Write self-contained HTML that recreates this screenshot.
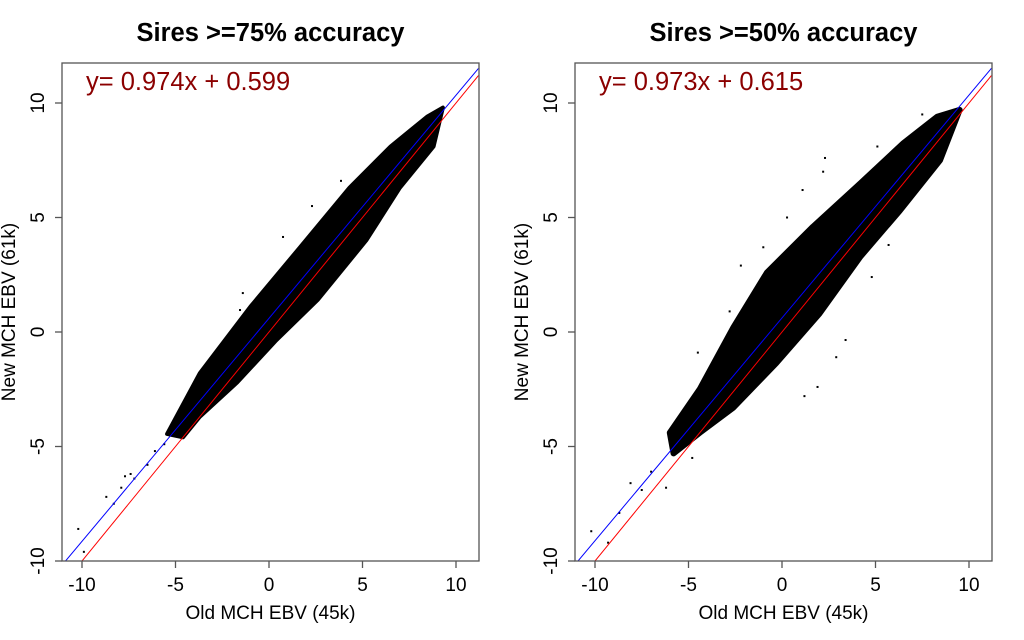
<!DOCTYPE html>
<html><head><meta charset="utf-8"><style>
body{margin:0;background:#fff;}
svg{display:block;font-family:"Liberation Sans",sans-serif;}
</style></head><body>
<svg id="c" width="1024" height="640"></svg>
<script>
const xTicks=[-10,-5,0,5,10];
const yTicks=[-10,-5,0,5,10];
const titles=["Sires >=75% accuracy","Sires >=50% accuracy"];
const slopes=[0.974,0.973];
const intercepts=[0.599,0.615];
const equations=["y= 0.974x + 0.599","y= 0.973x + 0.615"];
// dense cloud outline (old EBV, new EBV)
const cloud1X=[-5.45,-3.7,-1.0,1.66,4.3,6.5,8.45,9.3,8.8,7.0,5.2,2.6,0.4,-1.7,-3.7,-4.6];
const cloud1Y=[-4.45,-1.8,1.1,3.7,6.3,8.1,9.4,9.8,8.1,6.3,4.0,1.4,-0.35,-2.2,-3.7,-4.6];
const cloud2X=[-6.0,-4.4,-2.6,-0.8,1.66,4.2,6.5,8.3,9.5,8.45,6.3,4.2,2.0,-0.3,-2.6,-4.4,-5.8];
const cloud2Y=[-4.4,-2.5,0.2,2.6,4.6,6.5,8.25,9.4,9.7,7.5,5.3,3.3,0.8,-1.35,-3.3,-4.4,-5.3];
const out1X=[-10.2,-9.9,-8.7,-8.3,-7.9,-7.7,-7.4,-7.2,-6.5,-6.1,-5.6,-1.4,0.75,2.3,3.85,-1.55];
const out1Y=[-8.6,-9.6,-7.2,-7.5,-6.8,-6.3,-6.2,-6.4,-5.8,-5.2,-4.9,1.7,4.15,5.5,6.6,0.96];
const out2X=[-10.2,-9.3,-8.7,-8.1,-7.5,-7.0,-6.2,-4.8,2.3,2.2,1.1,-2.2,-4.5,3.4,2.9,1.2,1.9,4.8,5.7,5.1,7.5,8.7,-2.8,0.27,-1.0];
const out2Y=[-8.7,-9.2,-7.9,-6.6,-6.9,-6.1,-6.8,-5.5,7.6,7.0,6.2,2.9,-0.9,-0.35,-1.1,-2.8,-2.4,2.4,3.8,8.1,9.5,8.1,0.9,5.0,3.7];
const svg=document.getElementById('c');
const NS="http://www.w3.org/2000/svg";
function mk(t,a,p){const e=document.createElementNS(NS,t);for(const k in a)e.setAttribute(k,a[k]);(p||svg).appendChild(e);return e;}
const offsets=[0,513];
const clouds=[[cloud1X,cloud1Y],[cloud2X,cloud2Y]];
const outs=[[out1X,out1Y],[out2X,out2Y]];
for(let p=0;p<2;p++){
  const o=offsets[p];
  const L=62+o,R=479+o,T=63,B=561;
  const sx=v=>269+o+v*18.7;
  const sy=v=>332-v*22.9;
  const g=mk('g',{});
  
  
  const cp=mk('clipPath',{id:'cp'+p},g);mk('rect',{x:L,y:T,width:R-L,height:B-T},cp);
  const t=mk('text',{x:(L+R)/2,y:41,'text-anchor':'middle','font-size':25.5,'font-weight':'bold',fill:'#000'},g);t.textContent=titles[p];
  
  
  const [cx,cy]=clouds[p];
  const pts=cx.map((v,i)=>sx(v)+','+sy(cy[i])).join(' ');
  const poly=mk('polygon',{points:pts,fill:'#000',stroke:'#000','stroke-width':p?6:4,'stroke-linejoin':'round','clip-path':'url(#cp'+p+')'},g);
  
  
  const [ox,oy]=outs[p];
  ox.forEach((v,i)=>{const d=mk('rect',{x:sx(v)-1,y:sy(oy[i])-1,width:2,height:2,fill:'#000'},g);
    
    });
  const x0=-11.07,x1=11.2;
  const rl=mk('line',{x1:sx(x0),y1:sy(x0),x2:sx(x1),y2:sy(x1),stroke:'#ff0000','stroke-width':1,'clip-path':'url(#cp'+p+')'},g);
  
  
  const bl=mk('line',{x1:sx(x0),y1:sy(slopes[p]*x0+intercepts[p]),x2:sx(x1),y2:sy(slopes[p]*x1+intercepts[p]),stroke:'#0000ff','stroke-width':1,'clip-path':'url(#cp'+p+')'},g);
  
  
  const bx=mk('rect',{x:L,y:T,width:R-L,height:B-T,fill:'none',stroke:'#555','stroke-width':1.3},g);
  
  
  xTicks.forEach(v=>{mk('line',{x1:sx(v),y1:B,x2:sx(v),y2:B+7,stroke:'#555','stroke-width':1.3},g);
    const tl=mk('text',{x:sx(v),y:B+30,'text-anchor':'middle','font-size':19,fill:'#000'},g);tl.textContent=v;
    
    });
  yTicks.forEach(v=>{mk('line',{x1:L,y1:sy(v),x2:L-7,y2:sy(v),stroke:'#555','stroke-width':1.3},g);
    const tl=mk('text',{x:L-18,y:sy(v),'text-anchor':'middle','font-size':19,fill:'#000',transform:'rotate(-90 '+(L-18)+' '+sy(v)+')'},g);tl.textContent=v;
    
    });
  const xl=mk('text',{x:(L+R)/2,y:619,'text-anchor':'middle','font-size':19,fill:'#000'},g);xl.textContent='Old MCH EBV (45k)';
  
  
  const yx=L-47,yy=(T+B)/2;
  const yl=mk('text',{x:yx,y:yy,'text-anchor':'middle','font-size':19,fill:'#000',transform:'rotate(-90 '+yx+' '+yy+')'},g);yl.textContent='New MCH EBV (61k)';
  
  
  const eq=mk('text',{x:L+24,y:90,'font-size':25.5,fill:'#8b0000'},g);eq.textContent=equations[p];
  
  
}
</script>
</body></html>
